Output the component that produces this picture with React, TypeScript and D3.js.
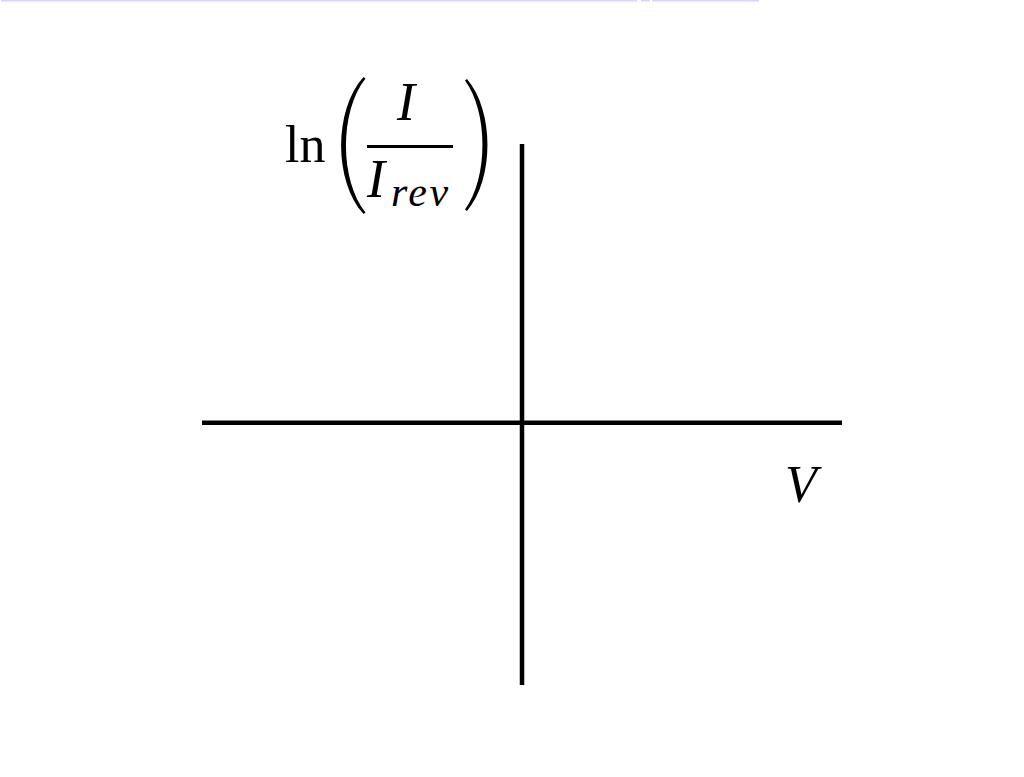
import React from "react";
import * as d3 from "d3";

const xDomain: [number, number] = [-1, 1];
const yDomain: [number, number] = [-0.94, 1.0];
const xLabel = "V";
const yLabelFn = "ln";
const yNumerator = "I";
const yDenominator = "I";
const yDenominatorSub = "rev";

const W = 1024;
const H = 777;

export default function App() {
  const x = d3.scaleLinear().domain(xDomain).range([202, 842]);
  const y = d3.scaleLinear().domain(yDomain).range([685, 144]);
  const x0 = x(0);
  const y0 = y(0);

  const serif = "'Liberation Serif', 'DejaVu Serif', serif";

  // parentheses as filled crescents
  const lp = d3.path();
  lp.moveTo(363.5, 77);
  lp.bezierCurveTo(333.7, 110, 333.7, 181, 363.5, 214);
  lp.lineTo(365.5, 212.5);
  lp.bezierCurveTo(339.5, 180, 339.5, 111, 365.5, 78.5);
  lp.closePath();

  const rp = d3.path();
  rp.moveTo(467, 79);
  rp.bezierCurveTo(494.3, 111, 494.3, 179, 467, 211);
  rp.lineTo(465, 209.5);
  rp.bezierCurveTo(488.3, 178, 488.3, 112, 465, 80.5);
  rp.closePath();

  return (
    <div style={{ position: "absolute", left: 0, top: 0 }}>
      <svg width={W} height={H} style={{ display: "block", background: "#fff" }}>
        <line x1={1} x2={637} y1={0.5} y2={0.5} stroke="#d6d6f6" strokeWidth={2} />
        <line x1={641} x2={650} y1={0.5} y2={0.5} stroke="#d6d6f6" strokeWidth={2} />
        <line x1={652} x2={759} y1={0.5} y2={0.5} stroke="#d6d6f6" strokeWidth={2} />

        <line x1={x(xDomain[0])} x2={x(xDomain[1])} y1={y0} y2={y0} stroke="#000" strokeWidth={4.5} />
        <line x1={x0} x2={x0} y1={y(yDomain[1])} y2={y(yDomain[0])} stroke="#000" strokeWidth={4.5} />

        <text x={785} y={502} fontFamily={serif} fontStyle="italic" fontSize={52} fill="#000">
          {xLabel}
        </text>

        <text x={285} y={162} fontFamily={serif} fontSize={52} fill="#000">
          {yLabelFn}
        </text>
        <path d={lp.toString()} fill="#000" />
        <path d={rp.toString()} fill="#000" />
        <text x={397} y={120} fontFamily={serif} fontStyle="italic" fontSize={54} fill="#000">
          {yNumerator}
        </text>
        <line x1={367} x2={453} y1={146.5} y2={146.5} stroke="#000" strokeWidth={3} />
        <text x={367} y={197} fontFamily={serif} fontStyle="italic" fontSize={54} fill="#000">
          {yDenominator}
          <tspan dx={6} dy={9} fontSize={42} letterSpacing={2.5}>
            {yDenominatorSub}
          </tspan>
        </text>
      </svg>
    </div>
  );
}
